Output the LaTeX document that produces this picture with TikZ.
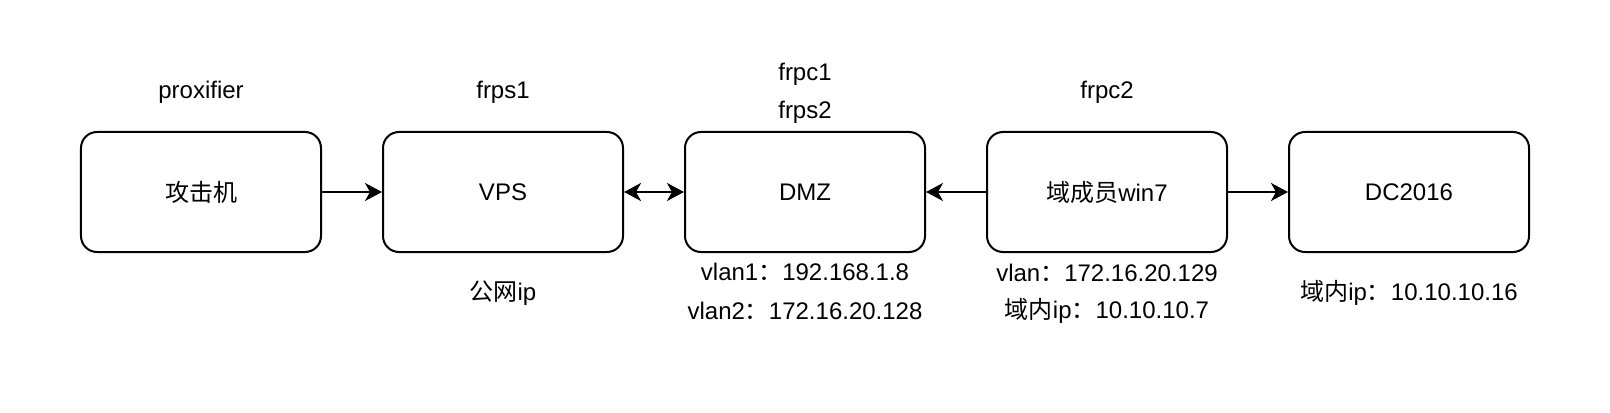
\documentclass[tikz,border=0pt]{standalone}
\usepackage{fontspec}
\setmainfont{Liberation Sans}
\newfontfamily\cjk{Noto Sans CJK SC}
\usepackage{tikz}
\usetikzlibrary{positioning,arrows.meta}

\begin{document}
\begin{tikzpicture}[
  font=\fontsize{12pt}{14pt}\selectfont,
  >={Stealth[length=8.5pt,width=9pt,inset=2.5pt]},
  node distance=30pt,
  hostbox/.style={
    draw,
    line width=1pt,
    rounded corners=8pt,
    minimum width=120pt,
    minimum height=60pt,
    inner sep=0pt
  },
  tag/.style={inner sep=0pt,text height=8.6pt,text depth=2.5pt},
  link/.style={->,line width=1pt},
  duplex/.style={<->,line width=1pt}
]
\useasboundingbox (-100.5pt,96pt) rectangle ++(805pt,-206pt);

\node[hostbox] (attacker) {{\cjk 攻击机}};
\node[hostbox, right=of attacker] (vps) {VPS};
\node[hostbox, right=of vps] (dmz) {DMZ};
\node[hostbox, right=of dmz] (win7) {{\cjk 域成员}win7};
\node[hostbox, right=of win7] (dc) {DC2016};

% tools running on each host
\node[tag] (proxytag) at ([yshift=19.5pt]attacker.north) {proxifier};
\node[tag] (frps1tag) at ([yshift=19.5pt]vps.north) {frps1};
\node[tag] (frpc1tag) at ([yshift=28.5pt]dmz.north) {frpc1};
\node[tag] (frps2tag) at ([yshift=9.5pt]dmz.north) {frps2};
\node[tag] (frpc2tag) at ([yshift=19.5pt]win7.north) {frpc2};

% addresses
\node[tag] (vpsip) at ([yshift=-20.5pt]vps.south) {{\cjk 公网}ip};
\node[tag] (dmzip1) at ([yshift=-10.5pt]dmz.south) {vlan1{\cjk ：}192.168.1.8};
\node[tag] (dmzip2) at ([yshift=-30pt]dmz.south) {vlan2{\cjk ：}172.16.20.128};
\node[tag] (win7ip1) at ([yshift=-11pt]win7.south) {vlan{\cjk ：}172.16.20.129};
\node[tag] (win7ip2) at ([yshift=-29.5pt]win7.south) {{\cjk 域内}ip{\cjk ：}10.10.10.7};
\node[tag] (dcip) at ([yshift=-20.5pt]dc.south) {{\cjk 域内}ip{\cjk ：}10.10.10.16};

\draw[link] (attacker) -- (vps);
\draw[duplex] (vps) -- (dmz);
\draw[link] (win7) -- (dmz);
\draw[link] (win7) -- (dc);
\end{tikzpicture}
\end{document}
